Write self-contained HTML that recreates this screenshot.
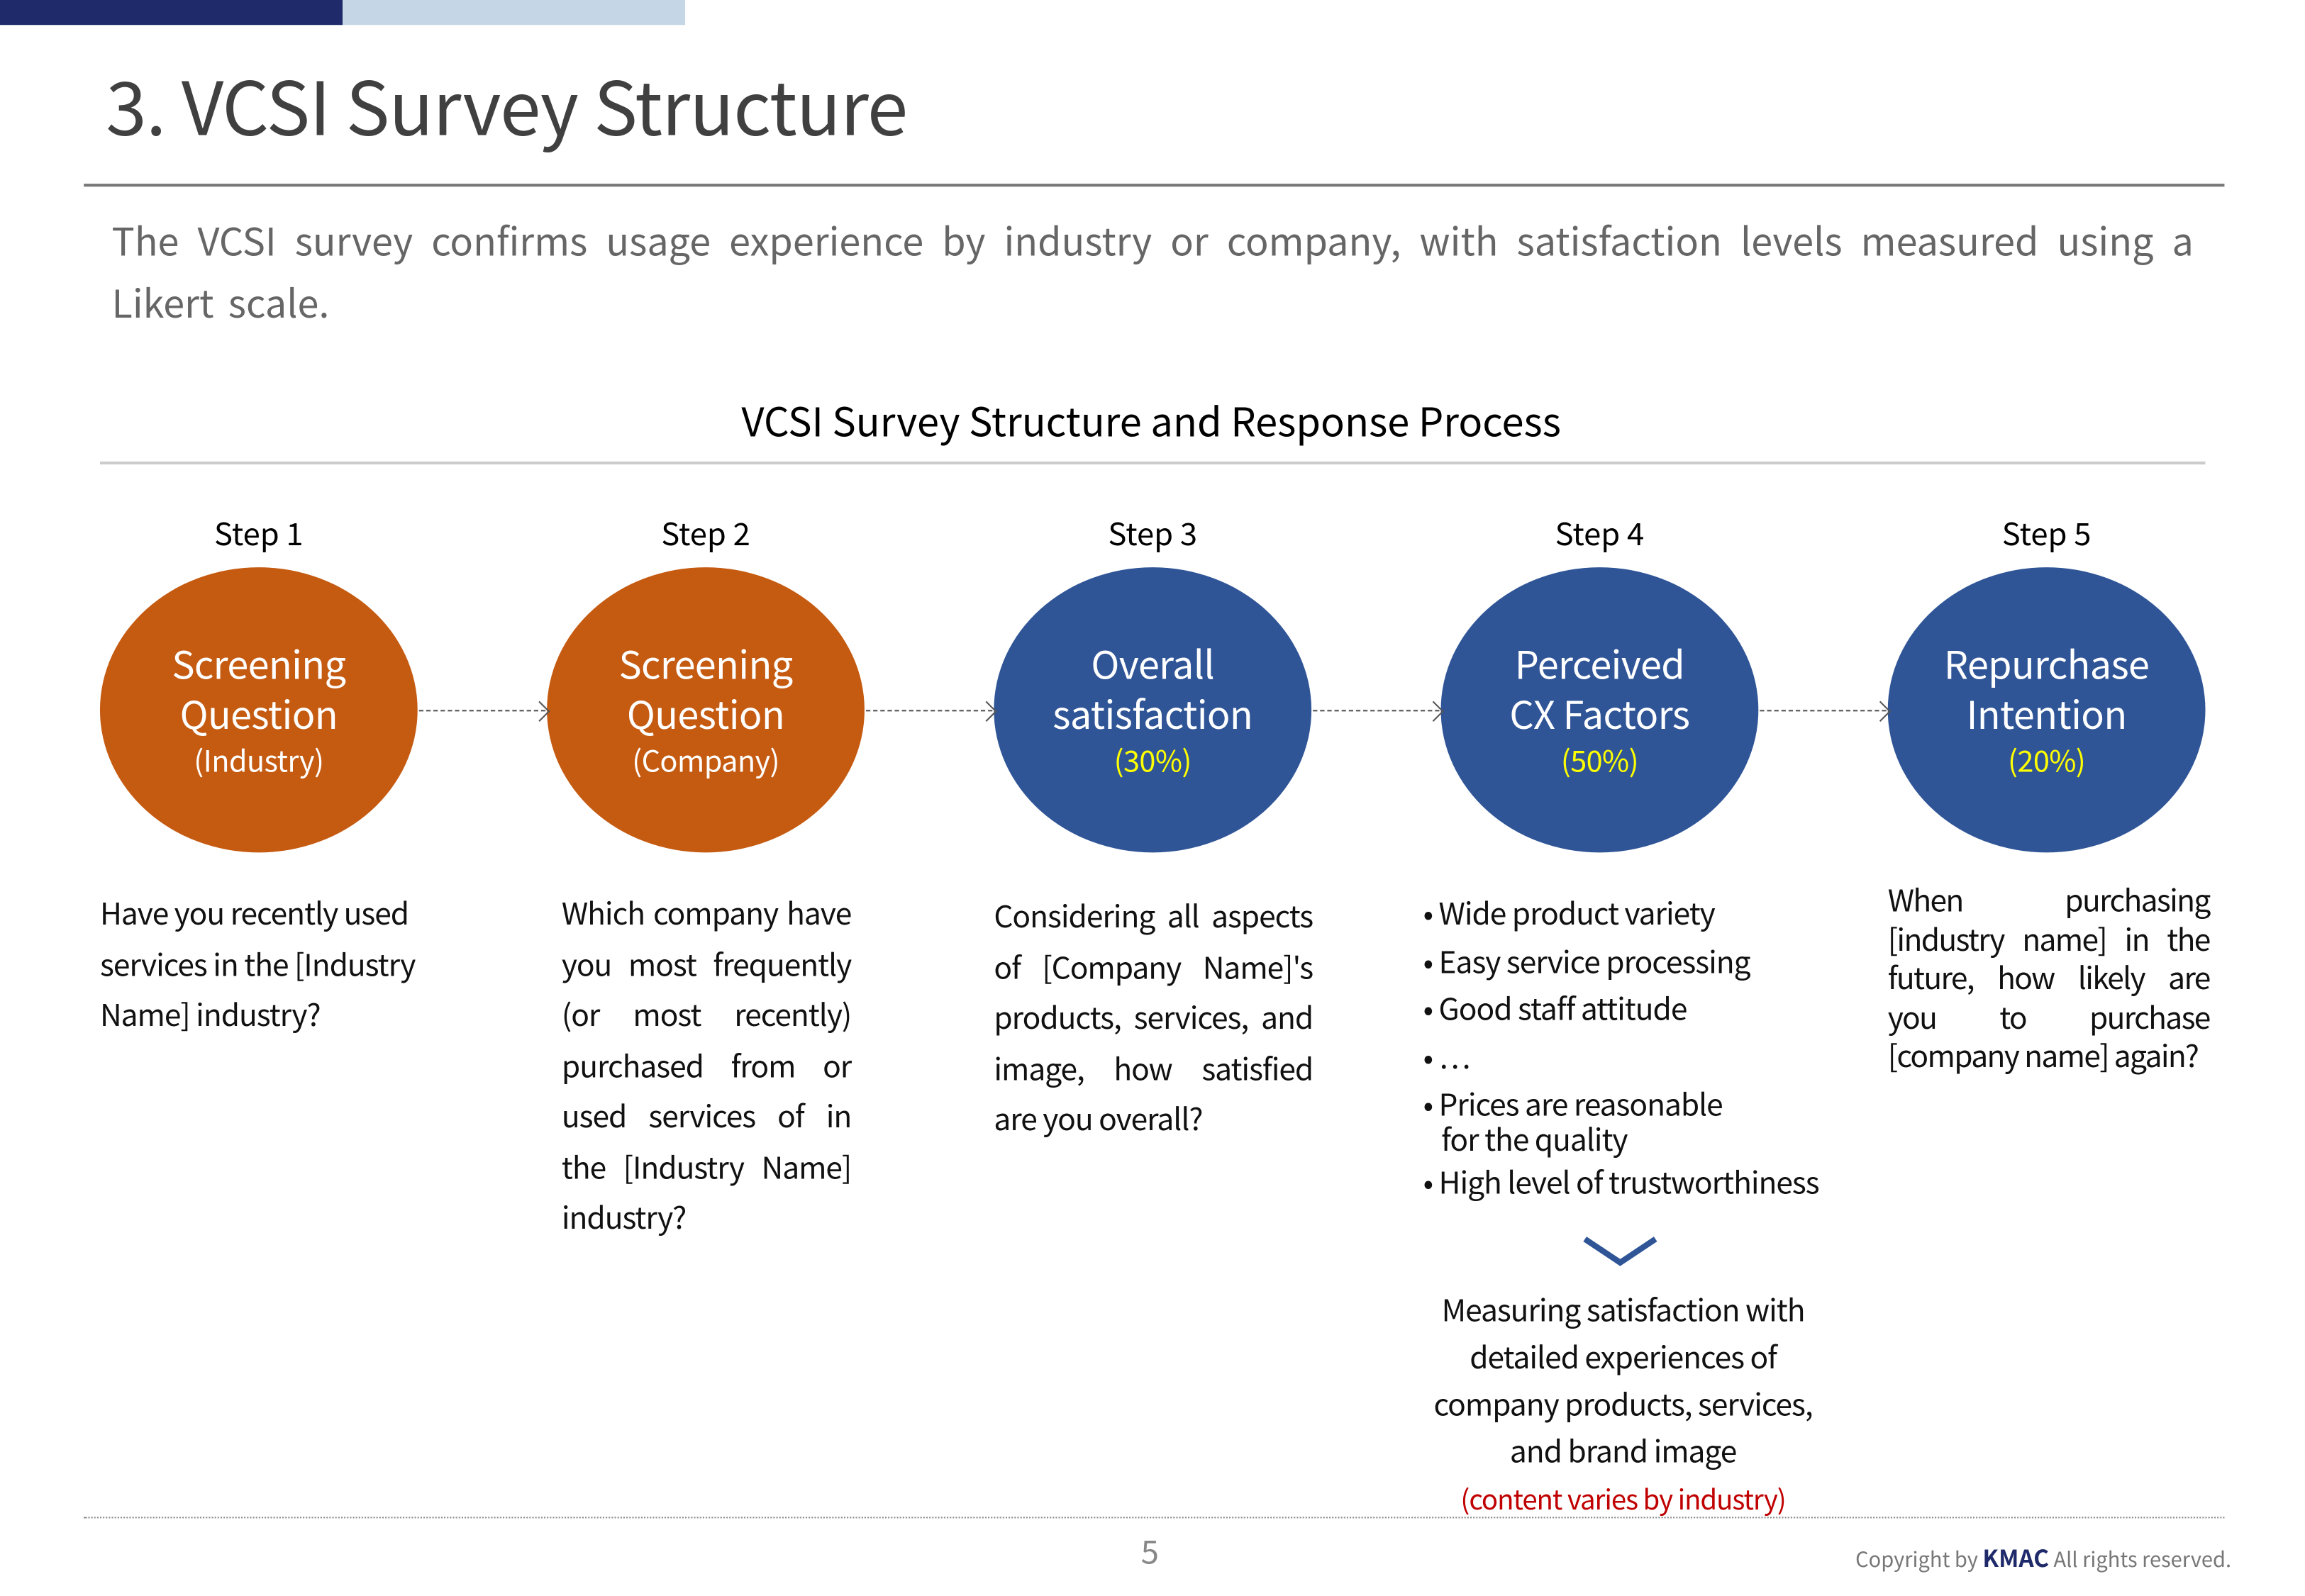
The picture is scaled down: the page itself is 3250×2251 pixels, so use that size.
<!DOCTYPE html>
<html><head><meta charset="utf-8"><style>
html,body{margin:0;padding:0;background:#fff;}
body{width:3250px;height:2250px;overflow:hidden;position:relative;}
#s{position:absolute;left:0;top:0;width:1570px;height:1086px;transform:scale(2.073);transform-origin:0 0;font-family:"Noto Sans CJK KR","Liberation Sans",sans-serif;}
.a{position:absolute;}
.c{position:absolute;border-radius:50%;width:216px;height:194px;top:386px;color:#fff;text-align:center;}
.c .t{position:absolute;left:0;right:0;top:49px;font-size:26px;line-height:34px;letter-spacing:-0.3px;}
.c .p{position:absolute;left:0;right:0;top:117px;font-size:20px;line-height:28px;letter-spacing:-0.3px;}
.o{background:#C55A11;} .b{background:#2F5597;}
.y{color:#FFFF00;}
.st{position:absolute;top:348px;font-size:21px;line-height:30px;width:120px;text-align:center;color:#000;}
.ar{position:absolute;top:483px;height:0;border-top:1.5px dashed #555;}
.ar:after{content:"";position:absolute;right:-1px;top:-6px;width:9px;height:9px;border-right:1.5px solid #555;border-top:1.5px solid #555;transform:rotate(45deg);margin-top:0.5px;}
.tx{position:absolute;font-size:20.5px;line-height:34.5px;color:#111;text-align:justify;letter-spacing:-0.5px;}
</style></head><body><div id="s">
<div class="a" style="left:72px;top:0;width:0;height:0"></div>
<div class="a" style="left:0;top:0;width:233px;height:17px;background:#1F2A6B"></div>
<div class="a" style="left:233px;top:0;width:233px;height:17px;background:#C5D6E6"></div>
<div class="a" style="left:72px;top:36px;font-size:50px;line-height:70px;color:#404040;letter-spacing:-0.5px;">3. VCSI Survey Structure</div>
<div class="a" style="left:57px;top:125px;width:1456px;height:2px;background:#777"></div>
<div class="a" style="left:76px;top:143px;width:1416px;font-size:26px;line-height:42px;color:#666;text-align:justify;text-align-last:left;letter-spacing:0px;word-spacing:4px;">The VCSI survey confirms usage experience by industry or company, with satisfaction levels measured using a Likert scale.</div>
<div class="a" style="left:0;width:1566px;top:267px;text-align:center;font-size:27px;line-height:38px;color:#000;letter-spacing:0px;">VCSI Survey Structure and Response Process</div>
<div class="a" style="left:68px;top:314px;width:1432px;height:1.5px;background:#ccc"></div>

<div class="st" style="left:116px">Step 1</div>
<div class="st" style="left:420px">Step 2</div>
<div class="st" style="left:724px">Step 3</div>
<div class="st" style="left:1028px">Step 4</div>
<div class="st" style="left:1332px">Step 5</div>

<div class="c o" style="left:68px"><div class="t">Screening<br>Question</div><div class="p">(Industry)</div></div>
<div class="c o" style="left:372px"><div class="t">Screening<br>Question</div><div class="p">(Company)</div></div>
<div class="c b" style="left:676px"><div class="t">Overall<br>satisfaction</div><div class="p y">(30%)</div></div>
<div class="c b" style="left:980px"><div class="t">Perceived<br>CX Factors</div><div class="p y">(50%)</div></div>
<div class="c b" style="left:1284px"><div class="t">Repurchase<br>Intention</div><div class="p y">(20%)</div></div>

<div class="ar" style="left:285px;width:86px"></div>
<div class="ar" style="left:589px;width:86px"></div>
<div class="ar" style="left:893px;width:86px"></div>
<div class="ar" style="left:1197px;width:86px"></div>

<div class="tx" style="left:68px;top:603px;width:224px;text-align:left;">Have you recently used services in the [Industry Name] industry?</div>
<div class="tx" style="left:382px;top:603px;width:197px;">Which company have you most frequently (or most recently) purchased from or used services of in the [Industry Name] industry?</div>
<div class="tx" style="left:676px;top:605px;width:217px;">Considering all aspects of [Company Name]'s products, services, and image, how satisfied are you overall?</div>
<div class="tx" style="left:968px;top:604px;width:300px;line-height:32.5px;text-align:left;">• Wide product variety<br>• Easy service processing<br>• Good staff attitude<br>• …<br>• Prices are reasonable<br><span style="display:block;line-height:26px;margin-top:-6px;">&nbsp;&nbsp;&nbsp;for the quality</span>• High level of trustworthiness</div>
<svg class="a" style="left:1076px;top:840px" width="54" height="24"><polyline points="2,3 26,19 50,3" fill="none" stroke="#2F5597" stroke-width="4"/></svg>
<div class="tx" style="left:964px;top:874px;width:280px;text-align:center;line-height:32px;">Measuring satisfaction with detailed experiences of company products, services, and brand image<br><span style="color:#C00000;font-size:18.5px;line-height:28px;">(content varies by industry)</span></div>
<div class="tx" style="left:1284px;top:598px;width:219px;line-height:26.5px;letter-spacing:-0.8px;">When purchasing [industry name] in the future, how likely are you to purchase [company name] again?</div>

<div class="a" style="left:57px;top:1032px;width:1456px;border-top:1.5px dotted #888"></div>
<div class="a" style="left:776px;top:1040px;font-size:22px;line-height:30px;color:#888;">5</div>
<div class="a" style="left:1262px;top:1049px;font-size:14px;line-height:20px;color:#777;">Copyright by <b style="color:#1F2A6B;font-size:16px;">KMAC</b> All rights reserved.</div>
</div></body></html>
